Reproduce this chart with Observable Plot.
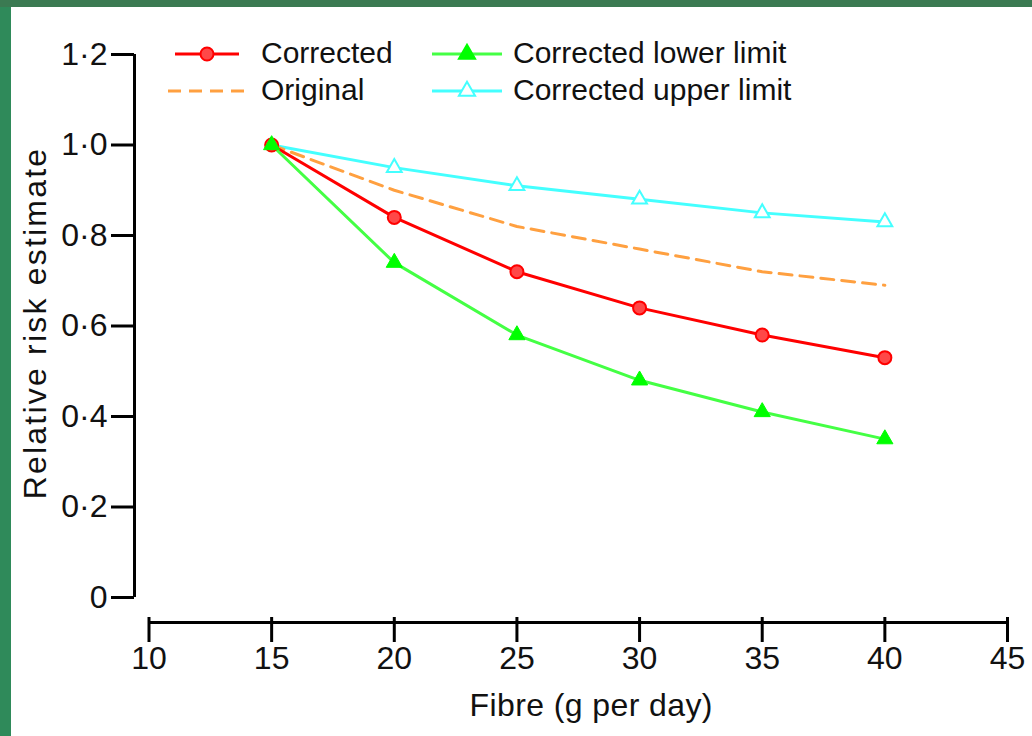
<!DOCTYPE html>
<html>
<head>
<meta charset="utf-8">
<script src="https://cdn.jsdelivr.net/npm/d3@7"></script>
<script src="https://cdn.jsdelivr.net/npm/@observablehq/plot@0.6"></script>
<style>
  html, body { margin: 0; padding: 0; width: 1032px; height: 736px; overflow: hidden; background: #2f8a5a; }
  #topstrip { position: absolute; left: 0; top: 0; width: 1032px; height: 7px; background: #3b7a52; }
  #panel { position: absolute; left: 11px; top: 7px; width: 1021px; height: 729px; background: #fff; }
  .leg { position: absolute; font-family: "Liberation Sans", Arial, sans-serif; font-size: 30px; color: #111; line-height: 30px; white-space: nowrap; }
  .sw { position: absolute; }
</style>
</head>
<body>
<div id="topstrip"></div>
<div id="panel"></div>
<script>
const fibre = [15, 20, 25, 30, 35, 40];
const corrected = [1.0, 0.84, 0.72, 0.64, 0.58, 0.53];
const original = [1.0, 0.90, 0.82, 0.77, 0.72, 0.69];
const lowerLimit = [1.0, 0.74, 0.58, 0.48, 0.41, 0.35];
const upperLimit = [1.0, 0.95, 0.91, 0.88, 0.85, 0.83];
const xTicks = [10, 15, 20, 25, 30, 35, 40, 45];
const yTicks = [0, 0.2, 0.4, 0.6, 0.8, 1.0, 1.2];
const seriesNames = ["Corrected", "Original", "Corrected lower limit", "Corrected upper limit"];
const xTitle = "Fibre (g per day)";
const yTitle = "Relative risk estimate";

const table = fibre.map((f, i) => ({f, corrected: corrected[i], original: original[i], lower: lowerLimit[i], upper: upperLimit[i]}));
const fmt = d => d === 0 ? "0" : d.toFixed(1).replace(".", "·");
const FONT = "'Liberation Sans', Arial, sans-serif";

const RED = "#ff0000", RED_FILL = "#ff4848", ORANGE = "#ffa040", GREEN_L = "#44ff44", GREEN = "#00ff00", CYAN = "#44ffff";

const chart = Plot.plot({
  width: 1021, height: 729,
  marginLeft: 137.5, marginRight: 25, marginTop: 47, marginBottom: 139,
  style: {background: "transparent", fontFamily: FONT, overflow: "visible", color: "#111"},
  x: {domain: [10, 45]},
  y: {domain: [0, 1.2]},
  marks: [
    Plot.ruleX([10], {y1: 0, y2: 1.2, dx: -14.5, strokeWidth: 3, stroke: "black"}),
    Plot.axisY({ticks: yTicks, anchor: "left", tickSize: 23, tickPadding: 4, dx: -14.5, strokeWidth: 3, fontSize: 32, tickFormat: fmt, label: null, stroke: "black", fill: "#111"}),
    Plot.ruleY([0], {x1: 10, x2: 45, dy: 25, strokeWidth: 3, stroke: "black"}),
    Plot.axisX({ticks: xTicks, anchor: "bottom", tickSize: 25, tickPadding: 4, dy: 20, strokeWidth: 3, fontSize: 32, label: null, stroke: "black", fill: "#111"}),
    Plot.text([xTitle], {frameAnchor: "bottom", textAnchor: "middle", dx: 13, dy: 118, fontSize: 32, fill: "#111"}),
    Plot.text([yTitle], {frameAnchor: "left", textAnchor: "middle", rotate: -90, dx: -113.5, dy: -3, fontSize: 32, fill: "#111"}),
    Plot.line(table, {x: "f", y: "upper", stroke: CYAN, strokeWidth: 3}),
    Plot.line(table, {x: "f", y: "original", stroke: ORANGE, strokeWidth: 3, strokeDasharray: "13,8"}),
    Plot.line(table, {x: "f", y: "corrected", stroke: RED, strokeWidth: 3}),
    Plot.line(table, {x: "f", y: "lower", stroke: GREEN_L, strokeWidth: 3}),
    Plot.dot(table.slice(1), {x: "f", y: "upper", symbol: "triangle", r: 5.5, fill: "white", stroke: CYAN, strokeWidth: 2}),
    Plot.dot(table, {x: "f", y: "corrected", symbol: "circle", r: 6.5, fill: RED_FILL, stroke: RED, strokeWidth: 2}),
    Plot.dot(table, {x: "f", y: "lower", symbol: "triangle", r: 6, fill: GREEN, stroke: GREEN, strokeWidth: 1})
  ]
});
// widen letter spacing of the axis titles to match the reference typeface
d3.select(chart).selectAll("text").each(function() {
  const s = this.textContent;
  if (s === yTitle) this.style.letterSpacing = "2.2px";
  if (s === xTitle) this.style.letterSpacing = "0.4px";
});
const panel = document.getElementById("panel");
panel.appendChild(chart);

// legend
const legendItems = [
  {name: seriesNames[0], col: 0, row: 0, stroke: RED, dash: null, marker: "circle", fill: RED_FILL},
  {name: seriesNames[1], col: 0, row: 1, stroke: ORANGE, dash: "13,8", marker: null},
  {name: seriesNames[2], col: 1, row: 0, stroke: GREEN_L, dash: null, marker: "triangle", fill: GREEN},
  {name: seriesNames[3], col: 1, row: 1, stroke: CYAN, dash: null, marker: "triangle", fill: "white"}
];
const colSwX = [157, 421], colSwW = [80, 70], colTxt = [250, 502], rowY = [47, 84];
legendItems.forEach(it => {
  const w = colSwW[it.col];
  const svg = d3.create("svg").attr("class", "sw").attr("width", w).attr("height", 24)
    .style("left", colSwX[it.col] + "px").style("top", (rowY[it.row] - 12) + "px");
  const offset = it.col === 0 && it.marker ? 7 : 0;
  svg.append("line").attr("x1", offset).attr("x2", w - (it.col === 0 && it.marker ? 9 : 0)).attr("y1", 12).attr("y2", 12)
    .attr("stroke", it.stroke).attr("stroke-width", 3).attr("stroke-dasharray", it.dash);
  if (it.marker) {
    const sym = it.marker === "circle" ? d3.symbolCircle : d3.symbolTriangle;
    const size = it.marker === "circle" ? Math.PI * 6.5 * 6.5 : Math.PI * 36;
    svg.append("path").attr("d", d3.symbol(sym, size)()).attr("transform", `translate(${(offset + w - (it.col === 0 ? 9 : 0)) / 2},12)`)
      .attr("fill", it.fill).attr("stroke", it.stroke === GREEN_L ? GREEN : it.stroke).attr("stroke-width", 2);
  }
  panel.appendChild(svg.node());
  const t = document.createElement("div");
  t.className = "leg";
  t.textContent = it.name;
  t.style.left = colTxt[it.col] + "px";
  t.style.top = (rowY[it.row] - 16) + "px";
  panel.appendChild(t);
});
</script>
</body>
</html>
